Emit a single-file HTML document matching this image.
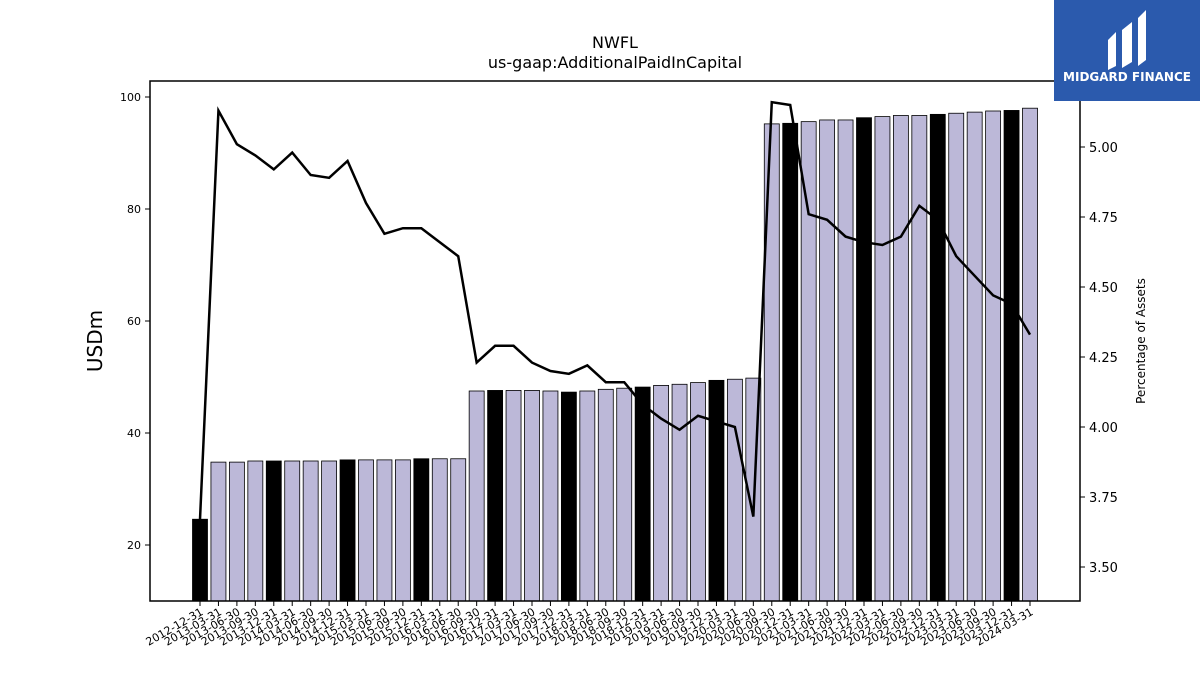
<!DOCTYPE html>
<html><head><meta charset="utf-8"><style>
body{margin:0;background:#fff;}
svg text{font-family:"DejaVu Sans","Liberation Sans",sans-serif;}
</style></head><body>
<svg id="chart" width="1200" height="675" viewBox="0 0 1200 675">
<rect width="1200" height="675" fill="#fff"/>
<text x="615" y="48" font-size="16" text-anchor="middle">NWFL</text>
<text x="615" y="68" font-size="16" text-anchor="middle">us-gaap:AdditionalPaidInCapital</text>
<g id="bars"></g>
<g id="line"></g>
<rect x="150" y="81" width="930" height="520" fill="none" stroke="#000" stroke-width="1.5"/>
<g id="yl"></g>
<g id="yr"></g>
<g id="xa"></g>
<text transform="translate(102,341) rotate(-90)" font-size="20" text-anchor="middle">USDm</text>
<text transform="translate(1145,341) rotate(-90)" font-size="12" text-anchor="middle">Percentage of Assets</text>
<g>
<rect x="1054" y="0" width="146" height="101" fill="#2b5aad"/>
<path d="M1108 40 L1116 32 L1116 66 L1108 70 Z M1122 30 L1132 22 L1132 62 L1122 68 Z M1138 18 L1146 10 L1146 60 L1138 66 Z" fill="#fff"/>
<text x="1127" y="81" font-size="12" font-weight="bold" fill="#fff" text-anchor="middle">MIDGARD FINANCE</text>
</g>
</svg>
<script>
const dates=["2012-12-31","2013-03-31","2013-06-30","2013-09-30","2013-12-31","2014-03-31","2014-06-30","2014-09-30","2014-12-31","2015-03-31","2015-06-30","2015-09-30","2015-12-31","2016-03-31","2016-06-30","2016-09-30","2016-12-31","2017-03-31","2017-06-30","2017-09-30","2017-12-31","2018-03-31","2018-06-30","2018-09-30","2018-12-31","2019-03-31","2019-06-30","2019-09-30","2019-12-31","2020-03-31","2020-06-30","2020-09-30","2020-12-31","2021-03-31","2021-06-30","2021-09-30","2021-12-31","2022-03-31","2022-06-30","2022-09-30","2022-12-31","2023-03-31","2023-06-30","2023-09-30","2023-12-31","2024-03-31"];
const apic=[24.6,34.8,34.8,35.0,35.0,35.0,35.0,35.0,35.2,35.2,35.2,35.2,35.4,35.4,35.4,47.5,47.6,47.6,47.6,47.5,47.3,47.5,47.8,48.0,48.2,48.5,48.7,49.0,49.4,49.6,49.8,95.2,95.3,95.6,95.9,95.9,96.3,96.5,96.7,96.7,96.9,97.1,97.3,97.5,97.6,98.0];
const pct=[3.67,5.13,5.01,4.97,4.92,4.98,4.90,4.89,4.95,4.80,4.69,4.71,4.71,4.66,4.61,4.23,4.29,4.29,4.23,4.20,4.19,4.22,4.16,4.16,4.08,4.03,3.99,4.04,4.02,4.00,3.68,5.16,5.15,4.76,4.74,4.68,4.66,4.65,4.68,4.79,4.74,4.61,4.54,4.47,4.44,4.33];
const leftTicks=[20,40,60,80,100];
const rightTicks=[3.5,3.75,4.0,4.25,4.5,4.75,5.0];
const NS="http://www.w3.org/2000/svg";
const yL=v=>545-(v-20)*5.6;
const yR=v=>147-(v-5.0)*280;
const xS=i=>200+i*(830/(dates.length-1));
function mk(tag,attrs,parent){const e=document.createElementNS(NS,tag);for(const k in attrs)e.setAttribute(k,attrs[k]);parent.appendChild(e);return e;}
const bars=document.getElementById('bars');
apic.forEach((v,i)=>{
 const b=mk('rect',{x:xS(i)-7.5,y:yL(v),width:15,height:601-yL(v),fill:dates[i].endsWith('12-31')?'#000':'#bcb8d8',stroke:'#000','stroke-width':0.8},bars);
 
 
});
const line=document.getElementById('line');
const pl=mk('polyline',{points:pct.map((v,i)=>xS(i)+','+yR(v)).join(' '),fill:'none',stroke:'#000','stroke-width':2.5},line);


const yl=document.getElementById('yl');
leftTicks.forEach(t=>{
 mk('line',{x1:145,x2:150,y1:yL(t),y2:yL(t),stroke:'#000'},yl);
 const tx=mk('text',{x:141,y:yL(t)+4,'font-size':11,'text-anchor':'end'},yl);tx.textContent=t;
 
 
});
const yr=document.getElementById('yr');
rightTicks.forEach(t=>{
 mk('line',{x1:1080,x2:1085,y1:yR(t),y2:yR(t),stroke:'#000'},yr);
 const tx=mk('text',{x:1089,y:yR(t)+5,'font-size':13},yr);tx.textContent=t.toFixed(2);
 
 
});
const xa=document.getElementById('xa');
dates.forEach((d,i)=>{
 const x=xS(i);
 mk('line',{x1:x,x2:x,y1:601,y2:606,stroke:'#000'},xa);
 const tx=mk('text',{transform:`translate(${x+4},${614}) rotate(-30)`,'font-size':11,'text-anchor':'end'},xa);tx.textContent=d;
 
 
});
</script>
</body></html>
